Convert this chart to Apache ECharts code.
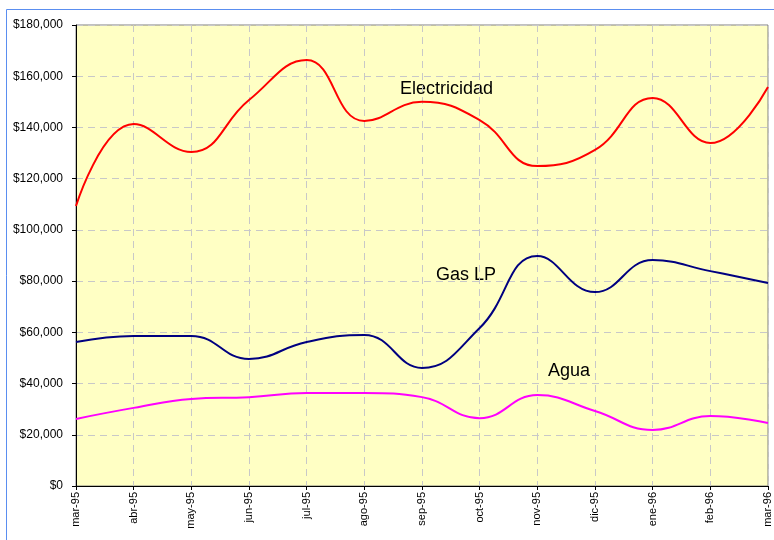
<!DOCTYPE html>
<html>
<head>
<meta charset="utf-8">
<script src="https://cdn.jsdelivr.net/npm/echarts@6/dist/echarts.min.js"></script>
<style>
  html, body { margin: 0; padding: 0; background: #fff; }
  #chart { width: 774px; height: 540px; }
</style>
</head>
<body>
<div id="chart"></div>
<script>
// meses (mar-95 .. mar-96)
const months = ["mar-95", "abr-95", "may-95", "jun-95", "jul-95", "ago-95", "sep-95",
  "oct-95", "nov-95", "dic-95", "ene-96", "feb-96", "mar-96"];

// consumos mensuales
const electricidad = [109300, 141300, 130400, 150700, 166300, 142500, 150000,
  142900, 124900, 131200, 151500, 133900, 155800];
const gasLP = [56200, 58600, 58600, 49600, 56200, 59000, 46100,
  61700, 89800, 75700, 88200, 83900, 79300];
const agua = [26200, 30500, 34000, 34700, 36300, 36300, 34700,
  26500, 35500, 29300, 21900, 27300, 24600];

const chart = echarts.init(document.getElementById("chart"));

function money(v) {
  return "$" + v.toString().replace(/\B(?=(\d{3})+(?!\d))/g, ",");
}

const lbl = { fontFamily: "Liberation Sans", fontSize: 18, fill: "#000" };

chart.setOption({
  animation: false,
  textStyle: { fontFamily: "Liberation Sans" },
  grid: {
    left: 76, top: 25, right: 6, bottom: 54,
    show: true,
    backgroundColor: "#FFFFC4",
    borderColor: "#808080",
    borderWidth: 1,
  },
  xAxis: {
    type: "category",
    data: months,
    boundaryGap: false,
    axisLine: { lineStyle: { color: "#000" } },
    axisTick: { show: true, length: 4, lineStyle: { color: "#000" } },
    axisLabel: { rotate: 90, color: "#000", fontSize: 11, margin: 6, interval: 0 },
    splitLine: { show: true, lineStyle: { color: "#c8c8c8", type: [7, 5] } },
  },
  yAxis: {
    type: "value",
    min: 0,
    max: 180000,
    interval: 20000,
    axisLine: { show: true, lineStyle: { color: "#000" } },
    axisTick: { show: true, length: 4, lineStyle: { color: "#000" } },
    axisLabel: { color: "#000", fontSize: 12, margin: 13, formatter: money },
    splitLine: { show: true, lineStyle: { color: "#c8c8c8", type: [7, 5] } },
  },
  series: [
    { name: "Electricidad", type: "line", data: electricidad, smooth: 0.45,
      symbol: "none", lineStyle: { color: "#FF0000", width: 2 } },
    { name: "Gas LP", type: "line", data: gasLP, smooth: 0.45,
      symbol: "none", lineStyle: { color: "#000080", width: 2 } },
    { name: "Agua", type: "line", data: agua, smooth: 0.45,
      symbol: "none", lineStyle: { color: "#FF00FF", width: 2 } },
  ],
  graphic: [
    { type: "rect", shape: { x: 6.5, y: 9.5, width: 900, height: 700 },
      style: { fill: "none", stroke: "#5a8ef0", lineWidth: 1 }, z: -1 },
    { type: "text", left: 400, top: 80, style: Object.assign({ text: "Electricidad" }, lbl) },
    { type: "text", left: 436, top: 266, style: Object.assign({ text: "Gas LP" }, lbl) },
    { type: "text", left: 548, top: 362, style: Object.assign({ text: "Agua" }, lbl) },
  ],
});
</script>
</body>
</html>
